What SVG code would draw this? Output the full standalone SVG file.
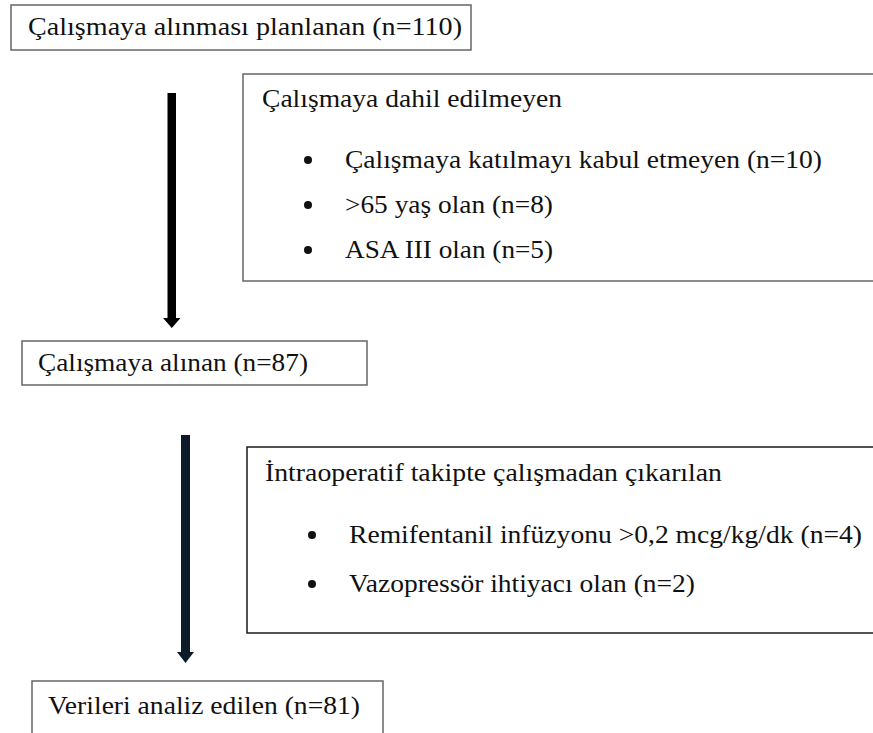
<svg xmlns="http://www.w3.org/2000/svg" width="873" height="733" viewBox="0 0 873 733">
<style>
.bg{fill:#ffffff}
.box{fill:#ffffff;stroke:#666666;stroke-width:1.5}
.boxd{fill:#ffffff;stroke:#1a1a1a;stroke-width:1.5}
.t{font-size:26px;fill:#111111}
.dot{fill:#111111}
</style>
<rect class="bg" x="0" y="0" width="873" height="733"/>
<g id="connectors">
<path d="M167.5,93 H176 V318 H180.5 L171.8,328 L163,318 H167.5 Z" fill="#000000"/>
<path d="M181,435 H190 V652 H194 L185.5,663 L177,652 H181 Z" fill="#0d1a28"/>
</g>
<g font-family="Liberation Serif, DejaVu Serif, serif">
<g id="node-planned">
<rect class="box" x="11" y="5" width="460" height="45"/>
<text class="t" x="28" y="35" textLength="434" lengthAdjust="spacingAndGlyphs">Çalışmaya alınması planlanan (n=110)</text>
</g>
<g id="node-excluded">
<rect class="box" x="243" y="74" width="640" height="207"/>
<text class="t" x="262" y="107" textLength="300" lengthAdjust="spacingAndGlyphs">Çalışmaya dahil edilmeyen</text>
<circle class="dot" cx="308" cy="160" r="4"/>
<text class="t" x="345" y="168" textLength="477" lengthAdjust="spacingAndGlyphs">Çalışmaya katılmayı kabul etmeyen (n=10)</text>
<circle class="dot" cx="308" cy="205" r="4"/>
<text class="t" x="345" y="213" textLength="208" lengthAdjust="spacingAndGlyphs">&gt;65 yaş olan (n=8)</text>
<circle class="dot" cx="308" cy="250" r="4"/>
<text class="t" x="345" y="258" textLength="208" lengthAdjust="spacingAndGlyphs">ASA III olan (n=5)</text>
</g>
<g id="node-included">
<rect class="box" x="22" y="341" width="345" height="44"/>
<text class="t" x="38" y="371" textLength="270" lengthAdjust="spacingAndGlyphs">Çalışmaya alınan (n=87)</text>
</g>
<g id="node-removed">
<rect class="boxd" x="247" y="447" width="640" height="186"/>
<text class="t" x="265" y="481" textLength="457" lengthAdjust="spacingAndGlyphs">İntraoperatif takipte çalışmadan çıkarılan</text>
<circle class="dot" cx="312" cy="535" r="4"/>
<text class="t" x="349" y="543" textLength="513" lengthAdjust="spacingAndGlyphs">Remifentanil infüzyonu &gt;0,2 mcg/kg/dk (n=4)</text>
<circle class="dot" cx="312" cy="584" r="4"/>
<text class="t" x="349" y="592" textLength="346" lengthAdjust="spacingAndGlyphs">Vazopressör ihtiyacı olan (n=2)</text>
</g>
<g id="node-analyzed">
<rect class="box" x="32" y="681" width="351" height="70"/>
<text class="t" x="48" y="714" textLength="312" lengthAdjust="spacingAndGlyphs">Verileri analiz edilen (n=81)</text>
</g>
</g>
</svg>
